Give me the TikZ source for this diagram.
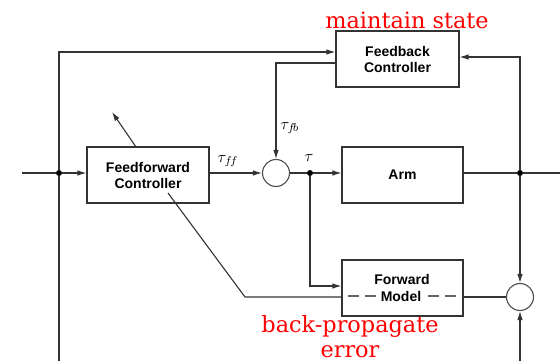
\documentclass[tikz,border=0pt]{standalone}
\usepackage{fontspec}
\usepackage{graphicx}
\setsansfont{Liberation Sans}
\newfontfamily\redserif{DejaVu Serif}
\usetikzlibrary{arrows.meta,calc}
\begin{document}
\begin{tikzpicture}[x=1pt,y=-1pt,
  line/.style={draw=black!80,line width=1.1pt},
  arr/.style={line,-{Latex[length=9pt,width=5.5pt]}},
  box/.style={draw=black!80,line width=1.1pt,rectangle,minimum height=56pt,inner sep=0pt,align=center,
    font=\sffamily\bfseries\fontsize{14}{16}\selectfont},
  sumc/.style={draw=black!70,line width=1.1pt,circle,minimum size=27pt,inner sep=0pt},
  dot/.style={circle,fill=black,inner sep=0pt,minimum size=6pt},
  redtxt/.style={text=red,font=\redserif\fontsize{22.4}{25}\selectfont,align=center},
  lab/.style={inner sep=0pt}]
\useasboundingbox (0,0) rectangle (560,361);

% boxes
\node[box,minimum width=123pt] (fb) at (397.5,59) {Feedback\\Controller};
\node[box,minimum width=122pt] (ff) at (148,175) {Feedforward\\Controller};
\node[box,minimum width=121pt] (arm) at (402.5,175) {Arm};
\node[box,minimum width=121pt] (fm) at (402.5,288) {};
\node[font=\sffamily\bfseries\fontsize{14}{16}\selectfont,inner sep=0pt] (fwd) at (402,279) {Forward};
\node[font=\sffamily\bfseries\fontsize{14}{16}\selectfont,inner sep=1.5pt] (mdl) at (401,296) {Model};
\node[sumc] (sum) at (276,173) {};
\node[sumc] (err) at (520,297) {};

% coordinates
\coordinate (in) at (22,173);
\node[dot] (j1) at (59,173) {};
\node[dot] (j2) at (310,173) {};
\node[dot] (j3) at (520,173) {};
\coordinate (out) at (560,173);
\coordinate (tl) at (59,52);
\coordinate (b1) at (59,361);
\coordinate (b2) at (520,361);
\coordinate (fbo) at (276,63);
\coordinate (fbi) at (520,57);
\coordinate (fmi) at (310,286);
\coordinate (bpc) at (245,297);
\coordinate (bps) at (168,193);
\coordinate (adapt) at (112,112);
\coordinate (adaptS) at (136,147);

% main path
\draw[line] (in) -- (j1);
\draw[arr] (j1) -- (ff.west |- j1);
\draw[arr] (ff.east |- sum) -- (sum.west);
\draw[line] (sum.east) -- (j2);
\draw[arr] (j2) -- (arm.west |- j2);
\draw[line] (arm.east |- j3) -- (j3) -- (out);

% top loop
\draw[arr] (j1) -- (tl) -- (fb.west |- tl);
\draw[line] (j1) -- (b1);
\draw[arr] (j3) -- (fbi) -- (fb.east |- fbi);
\draw[arr] (fb.west |- fbo) -- (fbo) -- (sum.north);

% forward model
\draw[arr] (j2) -- (fmi) -- (fm.west |- fmi);
\draw[arr] (j3) -- (err.north);
\draw[arr] (b2) -- (err.south);
\draw[line] (fm.east |- err) -- (err.west);
\draw[line] (bps) -- (bpc) -- (fm.west |- bpc);
\draw[black!60,line width=1.1pt,dash pattern=on 11pt off 6pt] ($(fm.west |- mdl)+(7,0)$) -- (mdl.west);
\draw[black!60,line width=1.1pt,dash pattern=on 11pt off 6pt] ($(fm.east |- mdl)+(-8,0)$) -- (mdl.east);

% adaptation arrow
\draw[arr] (adaptS) -- (adapt);

% labels
\node[lab] (tff) at (228,161) {\scalebox{1.6}{$\tau_{f\!f}$}};
\node[lab] (tfb) at (290,128) {\scalebox{1.6}{$\tau_{f\!b}$}};
\node[lab] (tau) at (309,158) {\scalebox{1.6}{$\tau$}};

\node[redtxt] (ms) at (407,20) {maintain state};
\node[redtxt] (bp) at (350,337) {back-propagate\\error};
\end{tikzpicture}
\end{document}
